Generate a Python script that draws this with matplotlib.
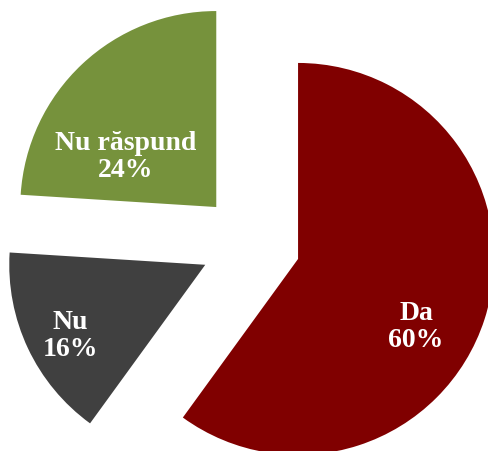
import matplotlib.pyplot as plt

labels = ["Da", "Nu", "Nu răspund"]
values = [60, 16, 24]
colors = ["#800000", "#404040", "#76923C"]
# label block centres in pixel coords (x, y from top)
label_pos = [(416, 327), (70, 336), (126, 157)]

W, H = 488, 452
fig = plt.figure(figsize=(W / 100, H / 100), dpi=100)
ax = fig.add_axes([0, 0, 1, 1])

ax.pie(values, colors=colors, startangle=90, counterclock=False,
       radius=196, center=(250.5, H - 244.5), explode=[50, 50, 50],
       wedgeprops=dict(linewidth=0), frame=True)
ax.set_xlim(0, W)
ax.set_ylim(0, H)
ax.set_aspect("equal")
ax.axis("off")

for lab, v, (px, py) in zip(labels, values, label_pos):
    ax.text(px, H - py, f"{lab}\n{v}%", color="white", ha="center", va="center",
            fontsize=20, fontweight="bold", family=["Liberation Serif", "DejaVu Serif"],
            linespacing=1.1)

fig.savefig("out.png", dpi=100)
